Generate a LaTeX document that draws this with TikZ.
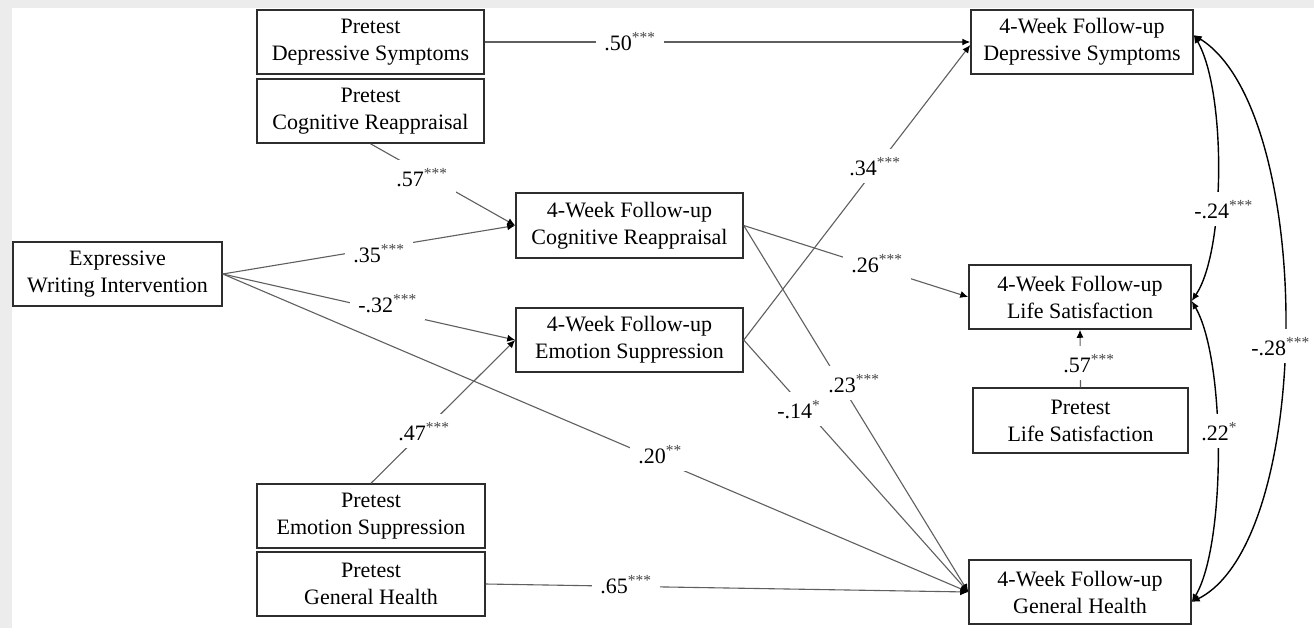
\documentclass[tikz,border=0pt]{standalone}
\usepackage{fontspec}
\setmainfont{Liberation Serif}
\usetikzlibrary{arrows.meta}

\definecolor{framegray}{RGB}{236,236,236}
\definecolor{pathgray}{RGB}{95,95,95}
\definecolor{boxline}{RGB}{45,45,45}
\definecolor{stargray}{RGB}{70,70,70}

\newcommand\starsup[1]{\textsuperscript{\textcolor{stargray}{#1}}}

\begin{document}
\begin{tikzpicture}[x=0.5pt,y=-0.5pt,
  var/.style={draw=boxline, line width=0.75pt, align=center, inner sep=0pt,
    minimum height=32pt, font=\fontsize{11}{13.5}\selectfont},
  effect/.style={draw=pathgray, line width=0.55pt,
    -{Latex[length=4pt,width=3.5pt,color=black]}},
  covar/.style={draw=black, line width=0.7pt,
    {Latex[length=4pt,width=3.5pt]}-{Latex[length=4pt,width=3.5pt]}},
  coef/.style={fill=white, inner sep=4pt, anchor=base west,
    font=\fontsize{11}{13}\selectfont},
]
% page with its grey frame
\path[use as bounding box, fill=framegray] (0,0) rectangle (1314,628);
\fill[white] (12,8) rectangle (1314,628);

% variables
\node[var, minimum width=113.5pt] (pDS) at (370.5,42) {Pretest\\Depressive Symptoms};
\node[var, minimum width=113.5pt] (pCR) at (370.5,111) {Pretest\\Cognitive Reappraisal};
\node[var, minimum width=104.5pt] (ewi) at (117.5,274) {Expressive\\Writing Intervention};
\node[var, minimum width=113.5pt, minimum height=32.5pt] (fCR) at (629.5,225.5) {4-Week Follow-up\\Cognitive Reappraisal};
\node[var, minimum width=113.5pt] (fES) at (629.5,340) {4-Week Follow-up\\Emotion Suppression};
\node[var, minimum width=114pt] (pES) at (371,516) {Pretest\\Emotion Suppression};
\node[var, minimum width=114pt] (pGH) at (371,584) {Pretest\\General Health};
\node[var, minimum width=111pt] (fDS) at (1082,42) {4-Week Follow-up\\Depressive Symptoms};
\node[var, minimum width=111pt] (fLS) at (1080,297) {4-Week Follow-up\\Life Satisfaction};
\node[var, minimum width=107.5pt, minimum height=32.5pt] (pLS) at (1080.5,420.5) {Pretest\\Life Satisfaction};
\node[var, minimum width=111pt] (fGH) at (1080,592) {4-Week Follow-up\\General Health};

% regression paths
\draw[effect] (pDS.east) -- (fDS.west);
\draw[effect] (pCR.south) -- (fCR.west);
\draw[effect] (ewi.east) -- (fCR.west);
\draw[effect] (ewi.east) -- (fES.west);
\draw[effect] (ewi.east) -- (fGH.west);
\draw[effect] (pES.north) -- (fES.west);
\draw[effect] (pGH.east) -- (fGH.west);
\draw[effect] (fCR.east) -- (fLS.west);
\draw[effect] (fCR.east) -- (fGH.west);
\draw[effect] (fES.east) -- ([yshift=-1.5pt]fDS.west);
\draw[effect] (fES.east) -- (fGH.west);
\draw[effect] (pLS.north) -- (fLS.south);

% residual covariances
\draw[covar] ([yshift=3.5pt]fDS.east) .. controls (1226,90) and (1226,250) .. ([yshift=-2pt]fLS.east);
\draw[covar] ([yshift=-2pt]fLS.east) .. controls (1226,360) and (1226,545) .. ([yshift=-5pt]fGH.east);
\draw[covar] ([yshift=3.5pt]fDS.east) .. controls (1315,110) and (1315,540) .. ([yshift=-5pt]fGH.east);

% coefficients
\node[coef] (c50) at (596,50) {.50\starsup{***}};
\node[coef] (c57a) at (388,186) {.57\starsup{***}};
\node[coef] (c35) at (345,262) {.35\starsup{***}};
\node[coef] (c32) at (350,312) {-.32\starsup{***}};
\node[coef] (c20) at (630,463) {.20\starsup{**}};
\node[coef] (c47) at (390,440) {.47\starsup{***}};
\node[coef] (c65) at (592,593) {.65\starsup{***}};
\node[coef] (c26) at (843,272) {.26\starsup{***}};
\node[coef] (c34) at (841,175) {.34\starsup{***}};
\node[coef] (c23) at (820,392) {.23\starsup{***}};
\node[coef] (c14) at (769,418) {-.14\starsup{*}};
\node[coef] (c57b) at (1055,372) {.57\starsup{***}};
\node[coef] (c24) at (1186,218) {-.24\starsup{***}};
\node[coef] (c22) at (1193,440) {.22\starsup{*}};
\node[coef] (c28) at (1243,355) {-.28\starsup{***}};
\end{tikzpicture}
\end{document}
